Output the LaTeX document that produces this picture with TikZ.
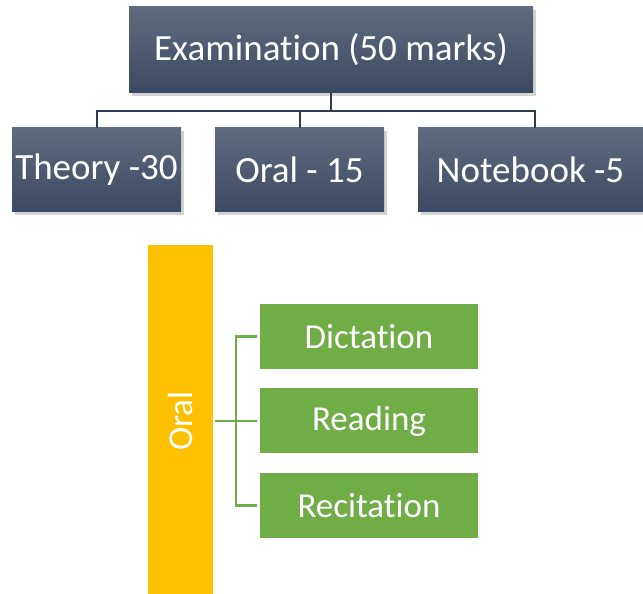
\documentclass[tikz,border=0pt]{standalone}
\usepackage{fontspec}
\setmainfont{Carlito}[Ligatures=NoCommon]
\usepackage{tikz}
\usepackage{xcolor}
\usetikzlibrary{calc}
\usetikzlibrary{positioning}
\usetikzlibrary{shadows}

\definecolor{slatetop}{HTML}{5F6B7F}
\definecolor{slatebot}{HTML}{3C4964}
\definecolor{slateline}{HTML}{2F3A4E}
\definecolor{leafgreen}{HTML}{70AD47}
\definecolor{baryellow}{HTML}{FFC000}

\tikzset{
  slatebox/.style={draw=none, top color=slatetop, bottom color=slatebot,
    text=white, font=\fontsize{18.5}{22}\selectfont, inner sep=0pt,
    drop shadow={shadow xshift=1.5pt, shadow yshift=-1.5pt, opacity=0.35}},
  leafbox/.style={fill=leafgreen, text=white, font=\fontsize{17.5}{21}\selectfont,
    minimum width=109pt, minimum height=32.5pt, inner sep=0pt},
  tree/.style={slateline, line width=1pt},
  branch/.style={leafgreen, line width=1.1pt},
}

\begin{document}
\begin{tikzpicture}[x=0.5pt,y=0.5pt]
\useasboundingbox (0,0) rectangle (643,594);

% top row
\node[slatebox, minimum width=202pt, minimum height=43pt] (exam) at (331,544) {Examination (50 marks)};
\node[slatebox, minimum width=84.5pt, minimum height=42pt] (theory) at (96.5,424) {Theory -30};
\node[slatebox, minimum width=84.5pt, minimum height=42pt] (oral) at (299.5,424) {Oral - 15};
\node[slatebox, minimum width=112.5pt, minimum height=42pt] (notebook) at (530.5,424) {Notebook -5};

\coordinate (bus) at (331,483);
\draw[tree] (exam.south) -- (bus);
\draw[tree] (bus) -| (theory.north);
\draw[tree] (bus) -| (oral.north);
\draw[tree] (bus) -| ([xshift=2.25pt]notebook.north);

% oral part
\node[fill=baryellow, minimum width=32.5pt, minimum height=174.5pt, inner sep=0pt] (oralbar) at (180.5,174.5) {};
\node[rotate=90, text=white, font=\fontsize{17.5}{21}\selectfont] (oraltext) at (oralbar.center |- 0,173) {Oral};

\node[leafbox] (dictation) at (369,257.5) {Dictation};
\node[leafbox] (reading) at (369,173) {Reading};
\node[leafbox] (recitation) at (369,88.5) {Recitation};

\coordinate (spine) at (236,0);
\draw[branch, shorten <=1pt, shorten >=1.5pt] (oralbar.east |- reading.west) -- (reading.west);
\draw[branch, shorten <=1.5pt, shorten >=1.5pt] (dictation.west) -- (spine |- dictation.west) -- (spine |- recitation.west) -- (recitation.west);

\end{tikzpicture}
\end{document}
